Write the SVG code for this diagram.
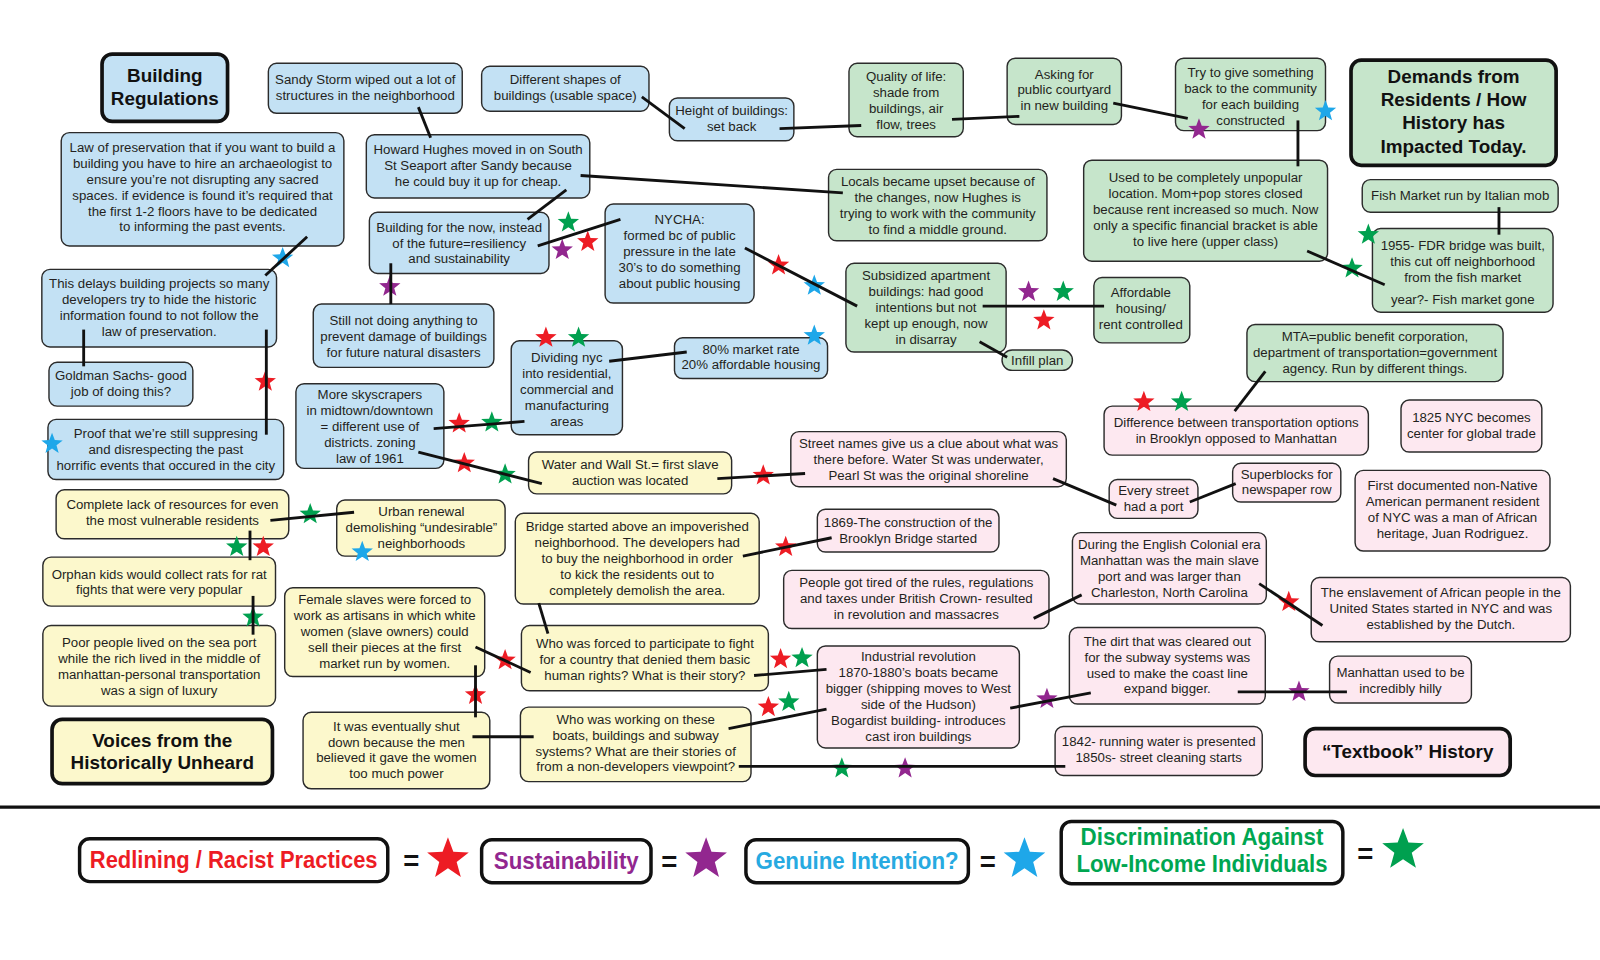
<svg xmlns="http://www.w3.org/2000/svg" xmlns:xlink="http://www.w3.org/1999/xlink" width="1600" height="960" viewBox="0 0 1600 960">
<style>
.node rect{stroke:#2b2b2b;stroke-width:1.4}
.node text{font-family:"Liberation Sans",Arial,sans-serif;font-size:13px;fill:#231f20;text-anchor:middle}
.title rect{stroke:#111;stroke-width:3.6}
.title text{font-size:18.5px;font-weight:bold;fill:#111}
.blue rect{fill:#c3e1f4}
.green rect{fill:#c6e5cb}
.yellow rect{fill:#fcf8cc}
.pink rect{fill:#fde8f0}
#connectors line{stroke:#111;stroke-width:2.8}
.sr{fill:#ed1c24}.sp{fill:#92278f}.sb{fill:#1ea7e9}.sg{fill:#00a04f}
.leg rect{fill:#fff;stroke:#111;stroke-width:3.4}
.leg text{font-family:"Liberation Sans",Arial,sans-serif;font-weight:bold;font-size:23px;text-anchor:middle}
.leg text.eq{font-size:27px;fill:#111}
</style>
<defs>
<path id="star" d="M0,-11 L2.7,-3.72 L10.46,-3.4 L4.37,1.42 L6.47,8.9 L0,4.6 L-6.47,8.9 L-4.37,1.42 L-10.46,-3.4 L-2.7,-3.72 Z"/>
</defs>
<rect x="0" y="0" width="1600" height="960" fill="#fff"/>
<g transform="scale(1.0204)">
<g id="nodes">
<g id="n-building-regulations" class="node title blue"><rect x="100" y="53" width="123" height="66" rx="10"/><text><tspan x="161.5" y="80">Building</tspan><tspan x="161.5" y="102.5">Regulations</tspan></text></g>
<g id="n-sandy" class="node blue"><rect x="263" y="62" width="190" height="49" rx="8"/><text><tspan x="358" y="82.2">Sandy Storm wiped out a lot of</tspan><tspan x="358" y="97.8">structures in the neighborhood</tspan></text></g>
<g id="n-shapes" class="node blue"><rect x="472" y="65" width="164" height="44" rx="8"/><text><tspan x="554" y="82.7">Different shapes of</tspan><tspan x="554" y="98.3">buildings (usable space)</tspan></text></g>
<g id="n-height" class="node blue"><rect x="656" y="96" width="122" height="42" rx="8"/><text><tspan x="717" y="112.7">Height of buildings:</tspan><tspan x="717" y="128.3">set back</tspan></text></g>
<g id="n-law" class="node blue"><rect x="60" y="130" width="277" height="111" rx="8"/><text><tspan x="198.5" y="148.8">Law of preservation that if you want to build a</tspan><tspan x="198.5" y="164.4">building you have to hire an archaeologist to</tspan><tspan x="198.5" y="180">ensure you’re not disrupting any sacred</tspan><tspan x="198.5" y="195.6">spaces. if evidence is found it’s required that</tspan><tspan x="198.5" y="211.2">the first 1-2 floors have to be dedicated</tspan><tspan x="198.5" y="226.8">to informing the past events.</tspan></text></g>
<g id="n-howard" class="node blue"><rect x="359" y="132" width="219" height="62" rx="8"/><text><tspan x="468.5" y="150.9">Howard Hughes moved in on South</tspan><tspan x="468.5" y="166.5">St Seaport after Sandy because</tspan><tspan x="468.5" y="182.1">he could buy it up for cheap.</tspan></text></g>
<g id="n-now" class="node blue"><rect x="362" y="208" width="176" height="60" rx="8"/><text><tspan x="450" y="227">Building for the now, instead</tspan><tspan x="450" y="242.6">of the future=resiliency</tspan><tspan x="450" y="258.2">and sustainability</tspan></text></g>
<g id="n-nycha" class="node blue"><rect x="593" y="200" width="146" height="97" rx="8"/><text><tspan x="666" y="220">NYCHA:</tspan><tspan x="666" y="235.6">formed bc of public</tspan><tspan x="666" y="251.2">pressure in the late</tspan><tspan x="666" y="266.8">30’s to do something</tspan><tspan x="666" y="282.4">about public housing</tspan></text></g>
<g id="n-delays" class="node blue"><rect x="41" y="264" width="230" height="76" rx="8"/><text><tspan x="156" y="282.1">This delays building projects so many</tspan><tspan x="156" y="297.7">developers try to hide the historic</tspan><tspan x="156" y="313.3">information found to not follow the</tspan><tspan x="156" y="328.9">law of preservation.</tspan></text></g>
<g id="n-goldman" class="node blue"><rect x="48" y="355" width="141" height="43" rx="8"/><text><tspan x="118.5" y="372.2">Goldman Sachs- good</tspan><tspan x="118.5" y="387.8">job of doing this?</tspan></text></g>
<g id="n-still" class="node blue"><rect x="307" y="298" width="177" height="62" rx="8"/><text><tspan x="395.5" y="318.7">Still not doing anything to</tspan><tspan x="395.5" y="334.3">prevent damage of buildings</tspan><tspan x="395.5" y="349.9">for future natural disasters</tspan></text></g>
<g id="n-proof" class="node blue"><rect x="47" y="411" width="231" height="59" rx="8"/><text><tspan x="162.5" y="429.5">Proof that we’re still suppresing</tspan><tspan x="162.5" y="445.1">and disrespecting the past</tspan><tspan x="162.5" y="460.7">horrific events that occured in the city</tspan></text></g>
<g id="n-skyscrapers" class="node blue"><rect x="290" y="376" width="145" height="83" rx="8"/><text><tspan x="362.5" y="391">More skyscrapers</tspan><tspan x="362.5" y="406.6">in midtown/downtown</tspan><tspan x="362.5" y="422.2">= different use of</tspan><tspan x="362.5" y="437.8">districts. zoning</tspan><tspan x="362.5" y="453.4">law of 1961</tspan></text></g>
<g id="n-dividing" class="node blue"><rect x="501" y="334" width="109" height="92" rx="8"/><text><tspan x="555.5" y="355">Dividing nyc</tspan><tspan x="555.5" y="370.5">into residential,</tspan><tspan x="555.5" y="386">commercial and</tspan><tspan x="555.5" y="401.5">manufacturing</tspan><tspan x="555.5" y="417">areas</tspan></text></g>
<g id="n-8020" class="node blue"><rect x="661" y="331" width="150" height="40" rx="8"/><text><tspan x="736" y="346.5">80% market rate</tspan><tspan x="736" y="362.1">20% affordable housing</tspan></text></g>

<g id="n-quality" class="node green"><rect x="832" y="62" width="112" height="72" rx="8"/><text><tspan x="888" y="79.5">Quality of life:</tspan><tspan x="888" y="95">shade from</tspan><tspan x="888" y="110.5">buildings, air</tspan><tspan x="888" y="126">flow, trees</tspan></text></g>
<g id="n-asking" class="node green"><rect x="987" y="57" width="112" height="65" rx="8"/><text><tspan x="1043" y="77">Asking for</tspan><tspan x="1043" y="92.6">public courtyard</tspan><tspan x="1043" y="108.2">in new building</tspan></text></g>
<g id="n-try" class="node green"><rect x="1152" y="57" width="147" height="71" rx="8"/><text><tspan x="1225.5" y="75.4">Try to give something</tspan><tspan x="1225.5" y="91">back to the community</tspan><tspan x="1225.5" y="106.6">for each building</tspan><tspan x="1225.5" y="122.2">constructed</tspan></text></g>
<g id="n-demands" class="node title green"><rect x="1324" y="59" width="201" height="103" rx="10"/><text><tspan x="1424.5" y="81.5">Demands from</tspan><tspan x="1424.5" y="104.2">Residents / How</tspan><tspan x="1424.5" y="126.9">History has</tspan><tspan x="1424.5" y="149.6">Impacted Today.</tspan></text></g>
<g id="n-locals" class="node green"><rect x="812" y="166" width="214" height="70" rx="8"/><text><tspan x="919" y="182.5">Locals became upset because of</tspan><tspan x="919" y="198.1">the changes, now Hughes is</tspan><tspan x="919" y="213.7">trying to work with the community</tspan><tspan x="919" y="229.3">to find a middle ground.</tspan></text></g>
<g id="n-used" class="node green"><rect x="1062" y="157" width="239" height="99" rx="8"/><text><tspan x="1181.5" y="178.7">Used to be completely unpopular</tspan><tspan x="1181.5" y="194.3">location. Mom+pop stores closed</tspan><tspan x="1181.5" y="209.9">because rent increased so much. Now</tspan><tspan x="1181.5" y="225.5">only a specific financial bracket is able</tspan><tspan x="1181.5" y="241.1">to live here (upper class)</tspan></text></g>
<g id="n-fish" class="node green"><rect x="1335" y="176" width="192" height="32" rx="8"/><text><tspan x="1431" y="196">Fish Market run by Italian mob</tspan></text></g>
<g id="n-fdr" class="node green"><rect x="1345" y="224" width="177" height="82" rx="8"/><text><tspan x="1433.5" y="244.6">1955- FDR bridge was built,</tspan><tspan x="1433.5" y="260.6">this cut off neighborhood</tspan><tspan x="1433.5" y="276.6">from the fish market</tspan><tspan x="1433.5" y="298.3">year?- Fish market gone</tspan></text></g>
<g id="n-subsidized" class="node green"><rect x="829" y="258" width="157" height="87" rx="8"/><text><tspan x="907.5" y="274.8">Subsidized apartment</tspan><tspan x="907.5" y="290.4">buildings: had good</tspan><tspan x="907.5" y="306">intentions but not</tspan><tspan x="907.5" y="321.6">kept up enough, now</tspan><tspan x="907.5" y="337.2">in disarray</tspan></text></g>
<g id="n-affordable" class="node green"><rect x="1072" y="272" width="94" height="64" rx="8"/><text><tspan x="1118" y="291">Affordable</tspan><tspan x="1118" y="306.6">housing/</tspan><tspan x="1118" y="322.2">rent controlled</tspan></text></g>
<g id="n-infill" class="node green"><rect x="982" y="343" width="69" height="20" rx="10"/><text><tspan x="1016.5" y="357.4">Infill plan</tspan></text></g>
<g id="n-mta" class="node green"><rect x="1222" y="318" width="251" height="56" rx="8"/><text><tspan x="1347.5" y="334.6">MTA=public benefit corporation,</tspan><tspan x="1347.5" y="350.2">department of transportation=government</tspan><tspan x="1347.5" y="365.8">agency. Run by different things.</tspan></text></g>

<g id="n-street" class="node pink"><rect x="775" y="423" width="270" height="54" rx="8"/><text><tspan x="910" y="439.5">Street names give us a clue about what was</tspan><tspan x="910" y="455.1">there before. Water St was underwater,</tspan><tspan x="910" y="470.7">Pearl St was the original shoreline</tspan></text></g>
<g id="n-difference" class="node pink"><rect x="1082" y="398" width="259" height="48" rx="8"/><text><tspan x="1211.5" y="418.5">Difference between transportation options</tspan><tspan x="1211.5" y="434.1">in Brooklyn opposed to Manhattan</tspan></text></g>
<g id="n-1825" class="node pink"><rect x="1373" y="392" width="138" height="51" rx="8"/><text><tspan x="1442" y="413.6">1825 NYC becomes</tspan><tspan x="1442" y="429.2">center for global trade</tspan></text></g>
<g id="n-every" class="node pink"><rect x="1087" y="470" width="87" height="38" rx="8"/><text><tspan x="1130.5" y="485.5">Every street</tspan><tspan x="1130.5" y="501.1">had a port</tspan></text></g>
<g id="n-superblocks" class="node pink"><rect x="1208" y="454" width="106" height="38" rx="8"/><text><tspan x="1261" y="469">Superblocks for</tspan><tspan x="1261" y="484.6">newspaper row</tspan></text></g>
<g id="n-first" class="node pink"><rect x="1328" y="461" width="191" height="79" rx="8"/><text><tspan x="1423.5" y="480.6">First documented non-Native</tspan><tspan x="1423.5" y="496.2">American permanent resident</tspan><tspan x="1423.5" y="511.8">of NYC was a man of African</tspan><tspan x="1423.5" y="527.4">heritage, Juan Rodriguez.</tspan></text></g>
<g id="n-1869" class="node pink"><rect x="801" y="499" width="178" height="42" rx="8"/><text><tspan x="890" y="516.8">1869-The construction of the</tspan><tspan x="890" y="532.4">Brooklyn Bridge started</tspan></text></g>
<g id="n-people" class="node pink"><rect x="768" y="559" width="260" height="57" rx="8"/><text><tspan x="898" y="575.6">People got tired of the rules, regulations</tspan><tspan x="898" y="591.2">and taxes under British Crown- resulted</tspan><tspan x="898" y="606.8">in revolution and massacres</tspan></text></g>
<g id="n-during" class="node pink"><rect x="1051" y="522" width="190" height="70" rx="8"/><text><tspan x="1146" y="538">During the English Colonial era</tspan><tspan x="1146" y="553.6">Manhattan was the main slave</tspan><tspan x="1146" y="569.2">port and was larger than</tspan><tspan x="1146" y="584.8">Charleston, North Carolina</tspan></text></g>
<g id="n-enslavement" class="node pink"><rect x="1285" y="566" width="254" height="63" rx="8"/><text><tspan x="1412" y="585.4">The enslavement of African people in the</tspan><tspan x="1412" y="601">United States started in NYC and was</tspan><tspan x="1412" y="616.6">established by the Dutch.</tspan></text></g>
<g id="n-industrial" class="node pink"><rect x="801" y="633" width="198" height="100" rx="8"/><text><tspan x="900" y="648">Industrial revolution</tspan><tspan x="900" y="663.7">1870-1880’s boats became</tspan><tspan x="900" y="679.4">bigger (shipping moves to West</tspan><tspan x="900" y="695.1">side of the Hudson)</tspan><tspan x="900" y="710.8">Bogardist building- introduces</tspan><tspan x="900" y="726.5">cast iron buildings</tspan></text></g>
<g id="n-dirt" class="node pink"><rect x="1048" y="615" width="192" height="75" rx="8"/><text><tspan x="1144" y="632.8">The dirt that was cleared out</tspan><tspan x="1144" y="648.4">for the subway systems was</tspan><tspan x="1144" y="664">used to make the coast line</tspan><tspan x="1144" y="679.6">expand bigger.</tspan></text></g>
<g id="n-hilly" class="node pink"><rect x="1303" y="643" width="139" height="46" rx="8"/><text><tspan x="1372.5" y="663.3">Manhattan used to be</tspan><tspan x="1372.5" y="678.9">incredibly hilly</tspan></text></g>
<g id="n-1842" class="node pink"><rect x="1034" y="712" width="203" height="48" rx="8"/><text><tspan x="1135.5" y="731.4">1842- running water is presented</tspan><tspan x="1135.5" y="747">1850s- street cleaning starts</tspan></text></g>
<g id="n-textbook" class="node title pink"><rect x="1279" y="714" width="201" height="46" rx="10"/><text><tspan x="1379.5" y="743">“Textbook” History</tspan></text></g>

<g id="n-complete" class="node yellow"><rect x="55" y="480" width="228" height="48" rx="8"/><text><tspan x="169" y="498.8">Complete lack of resources for even</tspan><tspan x="169" y="514.4">the most vulnerable residents</tspan></text></g>
<g id="n-urban" class="node yellow"><rect x="330" y="490" width="165" height="55" rx="8"/><text><tspan x="413" y="505.4">Urban renewal</tspan><tspan x="413" y="521">demolishing “undesirable”</tspan><tspan x="413" y="536.6">neighborhoods</tspan></text></g>
<g id="n-orphan" class="node yellow"><rect x="42" y="546" width="228" height="48" rx="8"/><text><tspan x="156" y="567">Orphan kids would collect rats for rat</tspan><tspan x="156" y="582.6">fights that were very popular</tspan></text></g>
<g id="n-poor" class="node yellow"><rect x="42" y="613" width="228" height="79" rx="8"/><text><tspan x="156" y="634.5">Poor people lived on the sea port</tspan><tspan x="156" y="650.1">while the rich lived in the middle of</tspan><tspan x="156" y="665.7">manhattan-personal transportation</tspan><tspan x="156" y="681.3">was a sign of luxury</tspan></text></g>
<g id="n-voices" class="node title yellow"><rect x="51" y="705" width="216" height="63" rx="10"/><text><tspan x="159" y="731.7">Voices from the</tspan><tspan x="159" y="754">Historically Unheard</tspan></text></g>
<g id="n-water" class="node yellow"><rect x="518" y="443" width="199" height="41" rx="8"/><text><tspan x="617.5" y="460">Water and Wall St.= first slave</tspan><tspan x="617.5" y="475.6">auction was located</tspan></text></g>
<g id="n-bridge" class="node yellow"><rect x="505" y="503" width="239" height="89" rx="8"/><text><tspan x="624.5" y="520.5">Bridge started above an impoverished</tspan><tspan x="624.5" y="536.1">neighborhood. The developers had</tspan><tspan x="624.5" y="551.7">to buy the neighborhood in order</tspan><tspan x="624.5" y="567.3">to kick the residents out to</tspan><tspan x="624.5" y="582.9">completely demolish the area.</tspan></text></g>
<g id="n-female" class="node yellow"><rect x="279" y="576" width="196" height="87" rx="8"/><text><tspan x="377" y="592">Female slaves were forced to</tspan><tspan x="377" y="607.6">work as artisans in which white</tspan><tspan x="377" y="623.2">women (slave owners) could</tspan><tspan x="377" y="638.8">sell their pieces at the first</tspan><tspan x="377" y="654.4">market run by women.</tspan></text></g>
<g id="n-forced" class="node yellow"><rect x="511" y="613" width="242" height="64" rx="8"/><text><tspan x="632" y="635.5">Who was forced to participate to fight</tspan><tspan x="632" y="651.1">for a country that denied them basic</tspan><tspan x="632" y="666.7">human rights? What is their story?</tspan></text></g>
<g id="n-shut" class="node yellow"><rect x="297" y="698" width="183" height="75" rx="8"/><text><tspan x="388.5" y="716">It was eventually shut</tspan><tspan x="388.5" y="731.6">down because the men</tspan><tspan x="388.5" y="747.2">believed it gave the women</tspan><tspan x="388.5" y="762.8">too much power</tspan></text></g>
<g id="n-working" class="node yellow"><rect x="510" y="693" width="226" height="73" rx="8"/><text><tspan x="623" y="709.2">Who was working on these</tspan><tspan x="623" y="724.8">boats, buildings and subway</tspan><tspan x="623" y="740.4">systems? What are their stories of</tspan><tspan x="623" y="756">from a non-developers viewpoint?</tspan></text></g>
</g>

<g id="stars">
<use xlink:href="#star" x="277" y="253" class="sb"/>
<use xlink:href="#star" x="557" y="218" class="sg"/>
<use xlink:href="#star" x="551" y="245" class="sp"/>
<use xlink:href="#star" x="576" y="237" class="sr"/>
<use xlink:href="#star" x="382" y="281" class="sp"/>
<use xlink:href="#star" x="1175" y="127" class="sp"/>
<use xlink:href="#star" x="1299" y="109" class="sb"/>
<use xlink:href="#star" x="1341" y="230" class="sg"/>
<use xlink:href="#star" x="1325" y="263" class="sg"/>
<use xlink:href="#star" x="763" y="260" class="sr"/>
<use xlink:href="#star" x="798" y="280" class="sb"/>
<use xlink:href="#star" x="798" y="329" class="sb"/>
<use xlink:href="#star" x="1008" y="286" class="sp"/>
<use xlink:href="#star" x="1042" y="286" class="sg"/>
<use xlink:href="#star" x="1023" y="314" class="sr"/>
<use xlink:href="#star" x="260" y="374" class="sr"/>
<use xlink:href="#star" x="51" y="435" class="sb"/>
<use xlink:href="#star" x="535" y="331" class="sr"/>
<use xlink:href="#star" x="567" y="331" class="sg"/>
<use xlink:href="#star" x="450" y="415" class="sr"/>
<use xlink:href="#star" x="482" y="414" class="sg"/>
<use xlink:href="#star" x="455" y="454" class="sr"/>
<use xlink:href="#star" x="495" y="465" class="sg"/>
<use xlink:href="#star" x="748" y="466" class="sr"/>
<use xlink:href="#star" x="1121" y="394" class="sr"/>
<use xlink:href="#star" x="1158" y="394" class="sg"/>
<use xlink:href="#star" x="304" y="504" class="sg"/>
<use xlink:href="#star" x="355" y="541" class="sb"/>
<use xlink:href="#star" x="232" y="536" class="sg"/>
<use xlink:href="#star" x="258" y="536" class="sr"/>
<use xlink:href="#star" x="248" y="605" class="sg"/>
<use xlink:href="#star" x="770" y="536" class="sr"/>
<use xlink:href="#star" x="495" y="647" class="sr"/>
<use xlink:href="#star" x="466" y="681" class="sr"/>
<use xlink:href="#star" x="765" y="646" class="sr"/>
<use xlink:href="#star" x="786" y="645" class="sg"/>
<use xlink:href="#star" x="753" y="693" class="sr"/>
<use xlink:href="#star" x="773" y="688" class="sg"/>
<use xlink:href="#star" x="825" y="753" class="sg"/>
<use xlink:href="#star" x="887" y="753" class="sp"/>
<use xlink:href="#star" x="1263" y="590" class="sr"/>
<use xlink:href="#star" x="1026" y="685" class="sp"/>
<use xlink:href="#star" x="1273" y="678" class="sp"/>
</g>

<g id="connectors">
<line x1="301" y1="232" x2="260" y2="270"/>
<line x1="410" y1="105" x2="422" y2="135"/>
<line x1="629" y1="95" x2="671" y2="126"/>
<line x1="764" y1="126" x2="844" y2="123"/>
<line x1="933" y1="117" x2="999" y2="114"/>
<line x1="1091" y1="101" x2="1164" y2="116"/>
<line x1="1272" y1="118" x2="1272" y2="163"/>
<line x1="569" y1="172" x2="826" y2="189"/>
<line x1="555" y1="186" x2="517" y2="215"/>
<line x1="527" y1="241" x2="608" y2="215"/>
<line x1="383" y1="258" x2="383" y2="298"/>
<line x1="730" y1="243" x2="840" y2="300"/>
<line x1="1281" y1="246" x2="1357" y2="279"/>
<line x1="1469" y1="203" x2="1469" y2="230"/>
<line x1="963" y1="300" x2="1082" y2="300"/>
<line x1="960" y1="335" x2="987" y2="350"/>
<line x1="82" y1="323" x2="82" y2="359"/>
<line x1="261" y1="323" x2="261" y2="426"/>
<line x1="597" y1="354" x2="673" y2="345"/>
<line x1="425" y1="420" x2="514" y2="413"/>
<line x1="410" y1="443" x2="531" y2="474"/>
<line x1="703" y1="469" x2="789" y2="464"/>
<line x1="1032" y1="469" x2="1094" y2="495"/>
<line x1="1166" y1="492" x2="1211" y2="474"/>
<line x1="1240" y1="364" x2="1210" y2="403"/>
<line x1="265" y1="510" x2="347" y2="502"/>
<line x1="245" y1="520" x2="245" y2="549"/>
<line x1="248" y1="584" x2="248" y2="622"/>
<line x1="728" y1="545" x2="815" y2="527"/>
<line x1="528" y1="591" x2="537" y2="621"/>
<line x1="466" y1="634" x2="520" y2="659"/>
<line x1="466" y1="652" x2="466" y2="703"/>
<line x1="463" y1="722" x2="523" y2="722"/>
<line x1="739" y1="662" x2="810" y2="656"/>
<line x1="714" y1="714" x2="810" y2="695"/>
<line x1="724" y1="751" x2="1044" y2="751"/>
<line x1="1013" y1="606" x2="1060" y2="583"/>
<line x1="1234" y1="572" x2="1296" y2="613"/>
<line x1="990" y1="694" x2="1069" y2="679"/>
<line x1="1213" y1="678" x2="1320" y2="678"/>
</g>

<g id="separator"><line x1="0" y1="791" x2="1568" y2="791" stroke="#111" stroke-width="3"/></g>

<g id="legend" class="leg">
<g id="leg-red"><rect x="78" y="822" width="302" height="42" rx="10"/><text x="229" y="851" fill="#ed1c24" textLength="282" lengthAdjust="spacingAndGlyphs">Redlining / Racist Practices</text></g>
<text class="eq" x="403" y="853">=</text>
<use xlink:href="#star" class="sr" transform="translate(439,842) scale(1.95)"/>
<g id="leg-purple"><rect x="472" y="823" width="166" height="42" rx="10"/><text x="555" y="852" fill="#92278f" textLength="142" lengthAdjust="spacingAndGlyphs">Sustainability</text></g>
<text class="eq" x="656" y="854">=</text>
<use xlink:href="#star" class="sp" transform="translate(692,842) scale(1.95)"/>
<g id="leg-blue"><rect x="731" y="823" width="218" height="42" rx="10"/><text x="840" y="852" fill="#27aae1" textLength="199" lengthAdjust="spacingAndGlyphs">Genuine Intention?</text></g>
<text class="eq" x="968" y="854">=</text>
<use xlink:href="#star" class="sb" transform="translate(1004,842) scale(1.95)"/>
<g id="leg-green"><rect x="1040" y="805" width="276" height="61" rx="10"/><text x="1178" y="828" fill="#00a651" textLength="238" lengthAdjust="spacingAndGlyphs">Discrimination Against</text><text x="1178" y="855" fill="#00a651" textLength="246" lengthAdjust="spacingAndGlyphs">Low-Income Individuals</text></g>
<text class="eq" x="1338" y="846">=</text>
<use xlink:href="#star" class="sg" transform="translate(1375,833) scale(1.95)"/>
</g>
</g>
</svg>
